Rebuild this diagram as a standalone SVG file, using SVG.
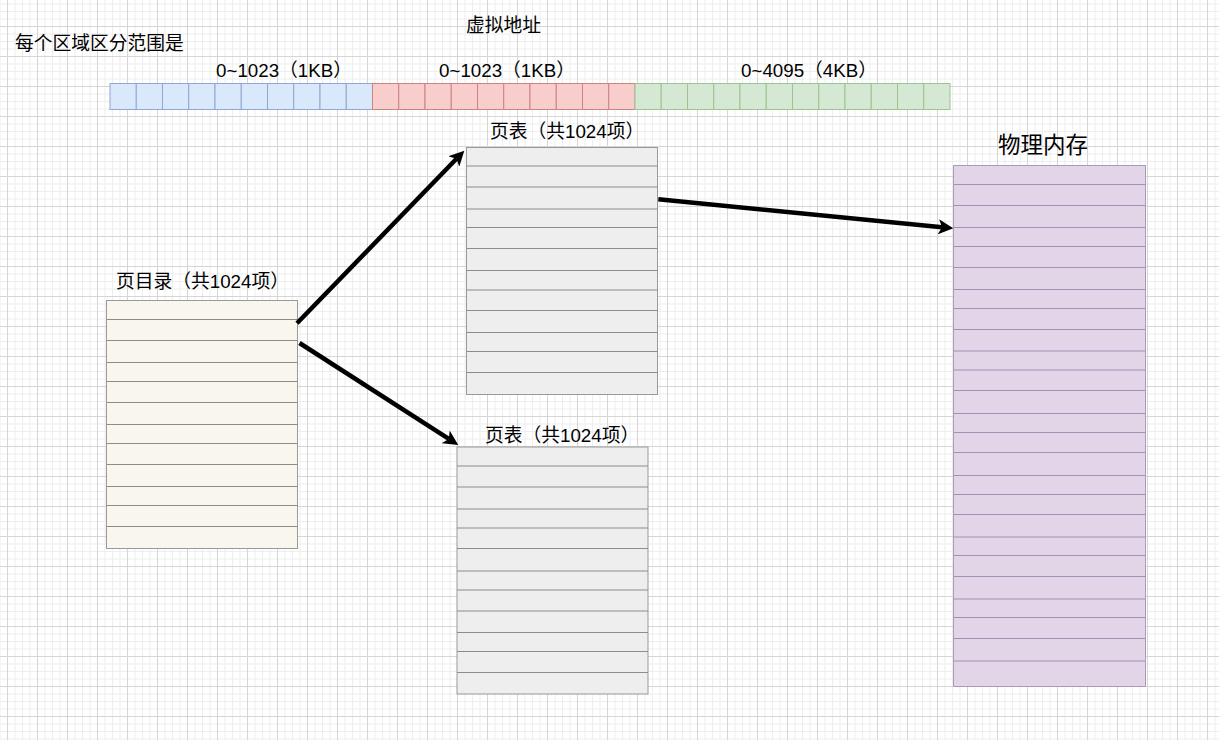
<svg xmlns="http://www.w3.org/2000/svg" width="1219" height="740" viewBox="0 0 1219 740">
<defs>
<pattern id="grid" patternUnits="userSpaceOnUse" x="7" y="26" width="30" height="30">
<rect x="0" y="0" width="30" height="30" fill="#ffffff"/>
<rect x="7.5" y="0" width="1" height="30" fill="#eeeeee"/>
<rect x="15" y="0" width="1" height="30" fill="#eeeeee"/>
<rect x="22.5" y="0" width="1" height="30" fill="#eeeeee"/>
<rect x="0" y="7.5" width="30" height="1" fill="#eeeeee"/>
<rect x="0" y="15" width="30" height="1" fill="#eeeeee"/>
<rect x="0" y="22.5" width="30" height="1" fill="#eeeeee"/>
<rect x="0" y="0" width="1" height="30" fill="#d6d6d6"/>
<rect x="0" y="0" width="30" height="1" fill="#d6d6d6"/>
</pattern>
<marker id="arrow" markerUnits="userSpaceOnUse" markerWidth="15" markerHeight="15" viewBox="0 0 12 12" refX="3" refY="6" orient="auto">
<path d="M0,0 L12,6 L0,12 L3,6 z" fill="#000"/>
</marker>
</defs>
<style>
text { font-family: "Liberation Sans", "Noto Sans CJK SC", sans-serif; fill: #000; }
.lbl { font-size: 18.75px; }
.big { font-size: 22.5px; }
.blue rect { fill: #dae8fc; stroke: #8ea8cf; stroke-width: 1; }
.red rect { fill: #f8cecc; stroke: #c98480; stroke-width: 1; }
.green rect { fill: #d5e8d4; stroke: #9cc390; stroke-width: 1; }
.dir .box { fill: #f9f7ed; stroke: #999999; stroke-width: 1; }
.dir line { stroke: #8c8c8c; stroke-width: 1; }
.pt .box { fill: #eeeeee; stroke: #999999; stroke-width: 1; }
.pt line { stroke: #8c8c8c; stroke-width: 1; }
.mem .box { fill: #e1d5e7; stroke: #ad98bd; stroke-width: 1; }
.mem line { stroke: #a58fb5; stroke-width: 1; }
.conn line { stroke: #000; stroke-width: 4.5; marker-end: url(#arrow); }
</style>
<rect x="0" y="0" width="1219" height="740" fill="url(#grid)"/>

<g id="labels">
<text class="lbl" x="15" y="50">每个区域区分范围是</text>
<text class="lbl" x="466" y="32">虚拟地址</text>
</g>

<g id="virtual-address">
<g id="va-blue" class="blue">
<rect x="110" y="83.5" width="26.25" height="26"/>
<rect x="136.25" y="83.5" width="26.25" height="26"/>
<rect x="162.5" y="83.5" width="26.25" height="26"/>
<rect x="188.75" y="83.5" width="26.25" height="26"/>
<rect x="215" y="83.5" width="26.25" height="26"/>
<rect x="241.25" y="83.5" width="26.25" height="26"/>
<rect x="267.5" y="83.5" width="26.25" height="26"/>
<rect x="293.75" y="83.5" width="26.25" height="26"/>
<rect x="320" y="83.5" width="26.25" height="26"/>
<rect x="346.25" y="83.5" width="26.25" height="26"/>
<text class="lbl" x="216" y="77">0~1023（1KB）</text>
</g>
<g id="va-red" class="red">
<rect x="372.5" y="83.5" width="26.25" height="26"/>
<rect x="398.75" y="83.5" width="26.25" height="26"/>
<rect x="425" y="83.5" width="26.25" height="26"/>
<rect x="451.25" y="83.5" width="26.25" height="26"/>
<rect x="477.5" y="83.5" width="26.25" height="26"/>
<rect x="503.75" y="83.5" width="26.25" height="26"/>
<rect x="530" y="83.5" width="26.25" height="26"/>
<rect x="556.25" y="83.5" width="26.25" height="26"/>
<rect x="582.5" y="83.5" width="26.25" height="26"/>
<rect x="608.75" y="83.5" width="26.25" height="26"/>
<text class="lbl" x="439" y="77">0~1023（1KB）</text>
</g>
<g id="va-green" class="green">
<rect x="635" y="83.5" width="26.25" height="26"/>
<rect x="661.25" y="83.5" width="26.25" height="26"/>
<rect x="687.5" y="83.5" width="26.25" height="26"/>
<rect x="713.75" y="83.5" width="26.25" height="26"/>
<rect x="740" y="83.5" width="26.25" height="26"/>
<rect x="766.25" y="83.5" width="26.25" height="26"/>
<rect x="792.5" y="83.5" width="26.25" height="26"/>
<rect x="818.75" y="83.5" width="26.25" height="26"/>
<rect x="845" y="83.5" width="26.25" height="26"/>
<rect x="871.25" y="83.5" width="26.25" height="26"/>
<rect x="897.5" y="83.5" width="26.25" height="26"/>
<rect x="923.75" y="83.5" width="26.25" height="26"/>
<text class="lbl" x="741" y="77">0~4095（4KB）</text>
</g>
</g>

<g id="page-directory" class="dir">
<text class="lbl" x="116" y="288">页目录（共1024项）</text>
<rect class="box" x="106.5" y="300.5" width="191" height="248"/>
<line x1="106.5" y1="319.5" x2="297.5" y2="319.5"/>
<line x1="106.5" y1="340.5" x2="297.5" y2="340.5"/>
<line x1="106.5" y1="362.5" x2="297.5" y2="362.5"/>
<line x1="106.5" y1="381.5" x2="297.5" y2="381.5"/>
<line x1="106.5" y1="402.5" x2="297.5" y2="402.5"/>
<line x1="106.5" y1="424.5" x2="297.5" y2="424.5"/>
<line x1="106.5" y1="443.5" x2="297.5" y2="443.5"/>
<line x1="106.5" y1="464.5" x2="297.5" y2="464.5"/>
<line x1="106.5" y1="486.5" x2="297.5" y2="486.5"/>
<line x1="106.5" y1="505.5" x2="297.5" y2="505.5"/>
<line x1="106.5" y1="526.5" x2="297.5" y2="526.5"/>
</g>

<g id="page-table-1" class="pt">
<text class="lbl" x="490" y="138">页表（共1024项）</text>
<rect class="box" x="466.5" y="147.5" width="191" height="247"/>
<line x1="466.5" y1="166" x2="657.5" y2="166"/>
<line x1="466.5" y1="187" x2="657.5" y2="187"/>
<line x1="466.5" y1="209" x2="657.5" y2="209"/>
<line x1="466.5" y1="227.5" x2="657.5" y2="227.5"/>
<line x1="466.5" y1="248.5" x2="657.5" y2="248.5"/>
<line x1="466.5" y1="270.5" x2="657.5" y2="270.5"/>
<line x1="466.5" y1="290" x2="657.5" y2="290"/>
<line x1="466.5" y1="310.5" x2="657.5" y2="310.5"/>
<line x1="466.5" y1="332.5" x2="657.5" y2="332.5"/>
<line x1="466.5" y1="351.5" x2="657.5" y2="351.5"/>
<line x1="466.5" y1="372.5" x2="657.5" y2="372.5"/>
</g>

<g id="page-table-2" class="pt">
<text class="lbl" x="485" y="442">页表（共1024项）</text>
<rect class="box" x="457" y="447" width="191" height="247"/>
<line x1="457" y1="466" x2="648" y2="466"/>
<line x1="457" y1="487" x2="648" y2="487"/>
<line x1="457" y1="509" x2="648" y2="509"/>
<line x1="457" y1="528" x2="648" y2="528"/>
<line x1="457" y1="548.5" x2="648" y2="548.5"/>
<line x1="457" y1="571" x2="648" y2="571"/>
<line x1="457" y1="590" x2="648" y2="590"/>
<line x1="457" y1="611" x2="648" y2="611"/>
<line x1="457" y1="632.5" x2="648" y2="632.5"/>
<line x1="457" y1="651.5" x2="648" y2="651.5"/>
<line x1="457" y1="672.5" x2="648" y2="672.5"/>
</g>

<g id="physical-memory" class="mem">
<text class="big" x="998" y="153">物理内存</text>
<rect class="box" x="953.5" y="165.5" width="192" height="521"/>
<line x1="953.5" y1="184.5" x2="1145.5" y2="184.5"/>
<line x1="953.5" y1="205.5" x2="1145.5" y2="205.5"/>
<line x1="953.5" y1="227.5" x2="1145.5" y2="227.5"/>
<line x1="953.5" y1="246.5" x2="1145.5" y2="246.5"/>
<line x1="953.5" y1="267.5" x2="1145.5" y2="267.5"/>
<line x1="953.5" y1="289.5" x2="1145.5" y2="289.5"/>
<line x1="953.5" y1="308.5" x2="1145.5" y2="308.5"/>
<line x1="953.5" y1="329.5" x2="1145.5" y2="329.5"/>
<line x1="953.5" y1="351" x2="1145.5" y2="351"/>
<line x1="953.5" y1="370" x2="1145.5" y2="370"/>
<line x1="953.5" y1="390.5" x2="1145.5" y2="390.5"/>
<line x1="953.5" y1="413.5" x2="1145.5" y2="413.5"/>
<line x1="953.5" y1="432.5" x2="1145.5" y2="432.5"/>
<line x1="953.5" y1="452.5" x2="1145.5" y2="452.5"/>
<line x1="953.5" y1="475.5" x2="1145.5" y2="475.5"/>
<line x1="953.5" y1="494.5" x2="1145.5" y2="494.5"/>
<line x1="953.5" y1="514.5" x2="1145.5" y2="514.5"/>
<line x1="953.5" y1="537" x2="1145.5" y2="537"/>
<line x1="953.5" y1="555.5" x2="1145.5" y2="555.5"/>
<line x1="953.5" y1="576.5" x2="1145.5" y2="576.5"/>
<line x1="953.5" y1="599" x2="1145.5" y2="599"/>
<line x1="953.5" y1="617.5" x2="1145.5" y2="617.5"/>
<line x1="953.5" y1="638.5" x2="1145.5" y2="638.5"/>
<line x1="953.5" y1="661" x2="1145.5" y2="661"/>
</g>

<g id="connectors" class="conn">
<line x1="297" y1="323.3" x2="456.5" y2="158.8"/>
<line x1="299.5" y1="343" x2="448.8" y2="438.9"/>
<line x1="658.3" y1="199.3" x2="942.1" y2="227.2"/>
</g>
</svg>
